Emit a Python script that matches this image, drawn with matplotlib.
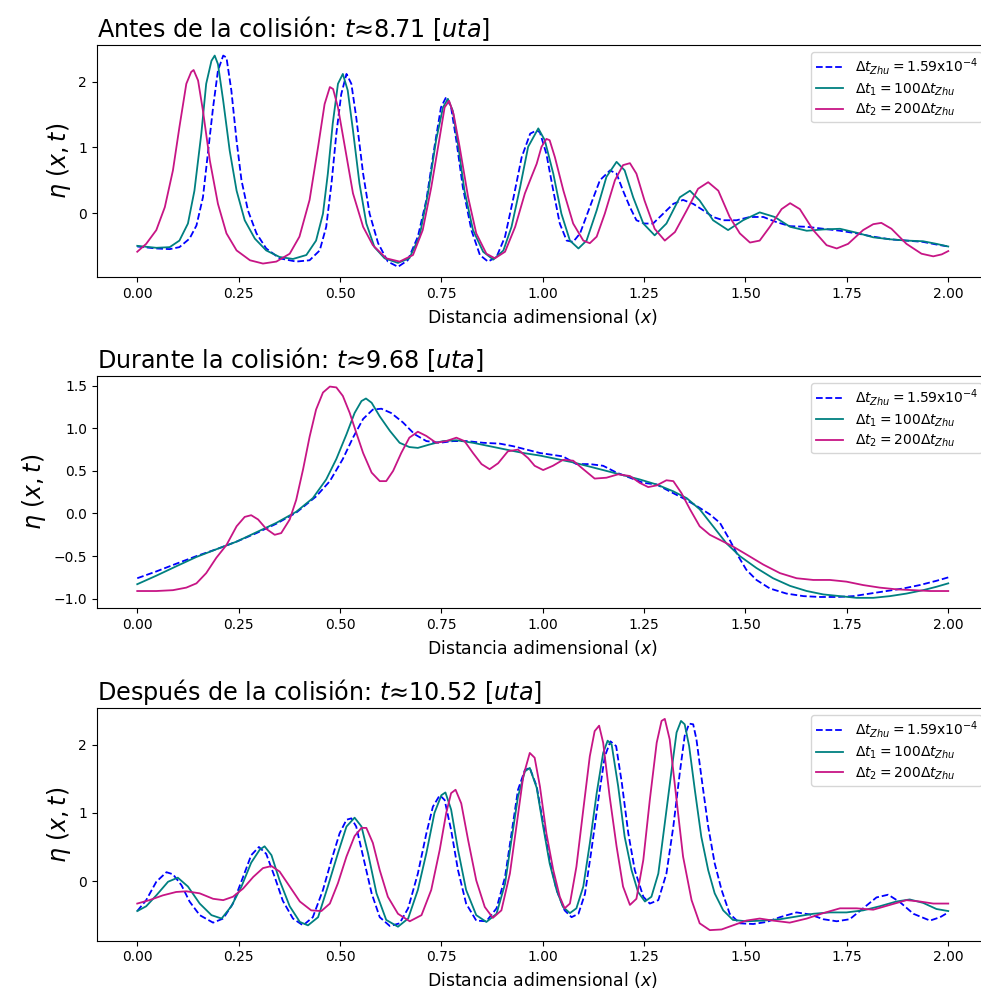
import matplotlib
matplotlib.use("Agg")
import matplotlib.pyplot as plt

# ---------------- Panel 1: antes de la colisión ----------------
p1_zhu_x = [0.000, 0.047, 0.080, 0.104, 0.129, 0.146, 0.162, 0.174, 0.187, 0.199, 0.212, 0.220, 0.232, 0.245,
            0.257, 0.273, 0.294, 0.318, 0.351, 0.392, 0.425, 0.450, 0.466, 0.479, 0.491, 0.503, 0.516, 0.528,
            0.540, 0.557, 0.573, 0.594, 0.618, 0.643, 0.667, 0.692, 0.713, 0.733, 0.749, 0.762, 0.774, 0.787,
            0.803, 0.824, 0.845, 0.865, 0.886, 0.907, 0.928, 0.948, 0.969, 0.985, 0.993, 1.009, 1.026, 1.042,
            1.059, 1.075, 1.092, 1.116, 1.141, 1.166, 1.182, 1.198, 1.215, 1.231, 1.251, 1.272, 1.297, 1.322,
            1.346, 1.371, 1.396, 1.420, 1.445, 1.478, 1.511, 1.544, 1.577, 1.610, 1.651, 1.692, 1.733, 1.774,
            1.815, 1.856, 1.897, 1.938, 1.971, 2.000]
p1_zhu_y = [-0.51, -0.54, -0.55, -0.52, -0.39, -0.19, 0.24, 0.90, 1.61, 2.17, 2.40, 2.37, 1.87, 1.10,
            0.50, 0.04, -0.31, -0.54, -0.69, -0.74, -0.72, -0.57, -0.21, 0.45, 1.21, 1.81, 2.12, 1.97,
            1.46, 0.60, -0.01, -0.46, -0.74, -0.82, -0.72, -0.36, 0.20, 1.01, 1.61, 1.77, 1.61, 1.10,
            0.39, -0.26, -0.64, -0.74, -0.67, -0.36, 0.24, 0.85, 1.21, 1.26, 1.23, 0.90, 0.34, -0.16,
            -0.42, -0.44, -0.31, 0.09, 0.50, 0.65, 0.60, 0.34, 0.09, -0.11, -0.16, -0.16, -0.01, 0.14,
            0.20, 0.14, 0.04, -0.06, -0.11, -0.11, -0.06, -0.06, -0.14, -0.20, -0.21, -0.24, -0.27, -0.31,
            -0.36, -0.40, -0.42, -0.44, -0.48, -0.51]

p1_dt1_x = [0.000, 0.047, 0.080, 0.104, 0.125, 0.141, 0.158, 0.170, 0.183, 0.191, 0.199, 0.212, 0.228, 0.245,
            0.265, 0.290, 0.318, 0.351, 0.384, 0.417, 0.441, 0.458, 0.470, 0.482, 0.495, 0.507, 0.519, 0.532,
            0.548, 0.565, 0.585, 0.610, 0.643, 0.671, 0.696, 0.717, 0.737, 0.754, 0.766, 0.778, 0.791, 0.807,
            0.828, 0.853, 0.878, 0.903, 0.923, 0.944, 0.964, 0.989, 1.005, 1.026, 1.046, 1.067, 1.088, 1.108,
            1.133, 1.157, 1.182, 1.202, 1.223, 1.248, 1.276, 1.305, 1.338, 1.363, 1.387, 1.420, 1.457, 1.494,
            1.535, 1.572, 1.610, 1.651, 1.692, 1.733, 1.774, 1.815, 1.856, 1.897, 1.938, 1.971, 2.000]
p1_dt1_y = [-0.50, -0.53, -0.52, -0.42, -0.16, 0.34, 1.21, 1.97, 2.32, 2.40, 2.27, 1.71, 0.95, 0.34,
            -0.11, -0.39, -0.57, -0.67, -0.70, -0.64, -0.42, -0.01, 0.60, 1.36, 1.97, 2.12, 1.87, 1.26,
            0.45, -0.16, -0.52, -0.69, -0.76, -0.69, -0.36, 0.30, 1.11, 1.61, 1.74, 1.56, 1.05, 0.34,
            -0.26, -0.59, -0.71, -0.57, -0.21, 0.39, 1.01, 1.29, 1.11, 0.60, -0.01, -0.42, -0.54, -0.42,
            0.04, 0.55, 0.78, 0.65, 0.24, -0.16, -0.34, -0.16, 0.24, 0.34, 0.19, -0.11, -0.26, -0.11,
            0.01, -0.06, -0.21, -0.27, -0.25, -0.24, -0.30, -0.37, -0.40, -0.42, -0.43, -0.47, -0.51]

p1_dt2_x = [0.000, 0.022, 0.047, 0.068, 0.088, 0.104, 0.121, 0.133, 0.139, 0.150, 0.162, 0.179, 0.199, 0.220,
            0.245, 0.278, 0.310, 0.343, 0.376, 0.400, 0.425, 0.446, 0.462, 0.475, 0.483, 0.495, 0.512, 0.532,
            0.557, 0.581, 0.614, 0.647, 0.680, 0.704, 0.725, 0.746, 0.758, 0.769, 0.780, 0.795, 0.816, 0.836,
            0.861, 0.882, 0.907, 0.932, 0.956, 0.972, 0.985, 0.997, 1.009, 1.017, 1.030, 1.051, 1.075, 1.100,
            1.116, 1.133, 1.153, 1.178, 1.198, 1.215, 1.231, 1.251, 1.276, 1.301, 1.326, 1.355, 1.383, 1.408,
            1.433, 1.461, 1.486, 1.511, 1.535, 1.560, 1.589, 1.610, 1.634, 1.667, 1.700, 1.725, 1.753, 1.790,
            1.815, 1.835, 1.860, 1.897, 1.934, 1.963, 1.984, 2.000]
p1_dt2_y = [-0.59, -0.47, -0.26, 0.09, 0.65, 1.31, 1.97, 2.15, 2.18, 2.02, 1.56, 0.80, 0.14, -0.31,
            -0.57, -0.72, -0.77, -0.74, -0.62, -0.36, 0.20, 1.01, 1.66, 1.92, 1.89, 1.61, 1.01, 0.30,
            -0.21, -0.49, -0.69, -0.74, -0.64, -0.26, 0.39, 1.16, 1.61, 1.71, 1.51, 1.01, 0.24, -0.31,
            -0.62, -0.69, -0.59, -0.21, 0.30, 0.55, 0.75, 1.01, 1.13, 1.11, 0.85, 0.34, -0.16, -0.42,
            -0.46, -0.36, -0.01, 0.50, 0.73, 0.76, 0.60, 0.19, -0.24, -0.42, -0.29, 0.04, 0.37, 0.47,
            0.34, -0.06, -0.31, -0.45, -0.42, -0.21, 0.06, 0.15, 0.06, -0.26, -0.49, -0.54, -0.47, -0.26,
            -0.17, -0.15, -0.24, -0.47, -0.62, -0.66, -0.63, -0.58]

# ---------------- Panel 2: durante la colisión ----------------
p2_zhu_x = [0.000, 0.047, 0.096, 0.146, 0.195, 0.245, 0.294, 0.343, 0.392, 0.441, 0.475, 0.507, 0.532, 0.557,
            0.581, 0.602, 0.626, 0.655, 0.684, 0.713, 0.746, 0.779, 0.812, 0.853, 0.894, 0.927, 0.960, 0.993,
            1.050, 1.083, 1.116, 1.149, 1.182, 1.215, 1.248, 1.281, 1.313, 1.346, 1.379, 1.412, 1.437, 1.461,
            1.482, 1.502, 1.527, 1.560, 1.601, 1.643, 1.684, 1.725, 1.766, 1.807, 1.848, 1.889, 1.930, 1.971,
            2.000]
p2_zhu_y = [-0.76, -0.68, -0.59, -0.50, -0.42, -0.33, -0.23, -0.12, 0.01, 0.20, 0.38, 0.64, 0.89, 1.11,
            1.22, 1.23, 1.18, 1.07, 0.93, 0.85, 0.83, 0.85, 0.85, 0.83, 0.82, 0.79, 0.75, 0.71,
            0.67, 0.58, 0.58, 0.56, 0.48, 0.42, 0.36, 0.34, 0.26, 0.18, 0.09, -0.01, -0.11, -0.31,
            -0.50, -0.66, -0.78, -0.88, -0.94, -0.97, -0.98, -0.98, -0.97, -0.94, -0.91, -0.88, -0.84, -0.79,
            -0.75]

p2_dt1_x = [0.000, 0.047, 0.096, 0.146, 0.195, 0.245, 0.294, 0.343, 0.392, 0.433, 0.466, 0.491, 0.516, 0.536,
            0.553, 0.564, 0.578, 0.598, 0.623, 0.647, 0.671, 0.692, 0.721, 0.754, 0.787, 0.828, 0.869, 0.910,
            0.952, 0.993, 1.034, 1.075, 1.116, 1.157, 1.198, 1.239, 1.281, 1.322, 1.355, 1.387, 1.420, 1.453,
            1.486, 1.527, 1.568, 1.610, 1.651, 1.692, 1.733, 1.774, 1.815, 1.856, 1.897, 1.938, 1.971, 2.000]
p2_dt1_y = [-0.83, -0.73, -0.62, -0.51, -0.42, -0.33, -0.22, -0.11, 0.02, 0.18, 0.40, 0.64, 0.93, 1.18,
            1.32, 1.35, 1.30, 1.14, 0.97, 0.83, 0.78, 0.77, 0.81, 0.85, 0.86, 0.83, 0.79, 0.75,
            0.71, 0.68, 0.64, 0.60, 0.55, 0.50, 0.45, 0.40, 0.34, 0.26, 0.18, 0.05, -0.15, -0.35,
            -0.50, -0.64, -0.76, -0.85, -0.91, -0.95, -0.97, -0.99, -0.99, -0.97, -0.94, -0.90, -0.86, -0.82]

p2_dt2_x = [0.000, 0.047, 0.088, 0.121, 0.146, 0.170, 0.195, 0.220, 0.245, 0.265, 0.281, 0.298, 0.318, 0.339,
            0.355, 0.376, 0.392, 0.409, 0.425, 0.441, 0.458, 0.475, 0.491, 0.507, 0.524, 0.540, 0.557, 0.578,
            0.598, 0.614, 0.631, 0.651, 0.671, 0.692, 0.713, 0.737, 0.762, 0.787, 0.807, 0.828, 0.849, 0.869,
            0.890, 0.914, 0.939, 0.964, 0.980, 1.001, 1.025, 1.050, 1.075, 1.100, 1.128, 1.157, 1.186, 1.215,
            1.239, 1.260, 1.281, 1.305, 1.322, 1.342, 1.363, 1.387, 1.412, 1.437, 1.470, 1.502, 1.544, 1.585,
            1.626, 1.667, 1.708, 1.749, 1.790, 1.831, 1.872, 1.914, 1.955, 2.000]
p2_dt2_y = [-0.91, -0.91, -0.90, -0.87, -0.82, -0.70, -0.52, -0.37, -0.15, -0.04, -0.02, -0.07, -0.18, -0.25,
            -0.23, -0.07, 0.16, 0.52, 0.90, 1.22, 1.42, 1.49, 1.48, 1.38, 1.18, 0.95, 0.71, 0.48,
            0.38, 0.38, 0.50, 0.71, 0.89, 0.96, 0.91, 0.83, 0.85, 0.89, 0.85, 0.71, 0.58, 0.52,
            0.59, 0.73, 0.75, 0.65, 0.56, 0.51, 0.56, 0.63, 0.62, 0.52, 0.41, 0.42, 0.46, 0.44,
            0.36, 0.31, 0.33, 0.39, 0.38, 0.24, 0.05, -0.15, -0.25, -0.31, -0.39, -0.48, -0.60, -0.70,
            -0.76, -0.78, -0.78, -0.80, -0.84, -0.87, -0.89, -0.90, -0.91, -0.91]

# ---------------- Panel 3: después de la colisión ----------------
p3_zhu_x = [0.000, 0.022, 0.047, 0.072, 0.088, 0.109, 0.129, 0.154, 0.187, 0.212, 0.236, 0.261, 0.281, 0.300,
            0.318, 0.339, 0.359, 0.384, 0.409, 0.433, 0.458, 0.479, 0.499, 0.516, 0.528, 0.540, 0.557, 0.578,
            0.598, 0.623, 0.647, 0.668, 0.692, 0.713, 0.729, 0.746, 0.758, 0.774, 0.791, 0.811, 0.836, 0.861,
            0.886, 0.907, 0.923, 0.939, 0.956, 0.968, 0.985, 1.001, 1.017, 1.034, 1.054, 1.071, 1.088, 1.104,
            1.120, 1.137, 1.153, 1.167, 1.181, 1.195, 1.211, 1.227, 1.248, 1.264, 1.285, 1.305, 1.322, 1.338,
            1.350, 1.361, 1.371, 1.379, 1.391, 1.408, 1.424, 1.441, 1.461, 1.486, 1.519, 1.552, 1.585, 1.626,
            1.659, 1.692, 1.725, 1.757, 1.790, 1.823, 1.852, 1.881, 1.914, 1.955, 1.980, 2.000]
p3_zhu_y = [-0.44, -0.28, -0.01, 0.13, 0.10, -0.06, -0.30, -0.50, -0.61, -0.55, -0.33, 0.06, 0.38, 0.50,
            0.40, 0.06, -0.29, -0.55, -0.65, -0.53, -0.13, 0.31, 0.70, 0.90, 0.92, 0.80, 0.36, -0.18,
            -0.53, -0.66, -0.62, -0.40, 0.11, 0.70, 1.09, 1.26, 1.19, 0.75, 0.16, -0.33, -0.58, -0.59,
            -0.40, 0.06, 0.70, 1.34, 1.63, 1.66, 1.39, 0.85, 0.31, -0.13, -0.43, -0.53, -0.48, -0.19,
            0.45, 1.19, 1.83, 2.05, 1.98, 1.44, 0.70, 0.16, -0.23, -0.33, -0.28, 0.11, 0.80, 1.59,
            2.13, 2.31, 2.30, 2.08, 1.54, 0.80, 0.26, -0.13, -0.48, -0.62, -0.63, -0.60, -0.53, -0.46,
            -0.49, -0.56, -0.59, -0.56, -0.40, -0.24, -0.20, -0.31, -0.48, -0.58, -0.53, -0.46]

p3_dt1_x = [0.000, 0.022, 0.047, 0.076, 0.100, 0.125, 0.154, 0.183, 0.208, 0.232, 0.257, 0.281, 0.302, 0.314,
            0.331, 0.351, 0.376, 0.401, 0.421, 0.446, 0.470, 0.495, 0.516, 0.536, 0.553, 0.569, 0.590, 0.614,
            0.643, 0.668, 0.692, 0.713, 0.733, 0.750, 0.760, 0.774, 0.791, 0.811, 0.836, 0.861, 0.886, 0.907,
            0.923, 0.939, 0.956, 0.968, 0.985, 1.001, 1.017, 1.034, 1.050, 1.067, 1.083, 1.100, 1.116, 1.133,
            1.149, 1.160, 1.170, 1.186, 1.202, 1.219, 1.235, 1.252, 1.268, 1.285, 1.301, 1.318, 1.330, 1.341,
            1.350, 1.361, 1.375, 1.391, 1.408, 1.424, 1.445, 1.469, 1.502, 1.544, 1.585, 1.626, 1.667, 1.708,
            1.749, 1.790, 1.831, 1.872, 1.905, 1.938, 1.971, 2.000]
p3_dt1_y = [-0.44, -0.37, -0.21, -0.01, 0.05, -0.08, -0.33, -0.50, -0.55, -0.37, -0.08, 0.27, 0.46, 0.51,
            0.38, 0.01, -0.37, -0.60, -0.65, -0.53, -0.08, 0.41, 0.80, 0.93, 0.80, 0.41, -0.18, -0.57,
            -0.67, -0.55, -0.13, 0.41, 1.00, 1.26, 1.30, 1.05, 0.46, -0.13, -0.50, -0.60, -0.48, -0.04,
            0.61, 1.24, 1.61, 1.66, 1.37, 0.80, 0.26, -0.13, -0.38, -0.47, -0.40, -0.08, 0.55, 1.29,
            1.88, 2.06, 2.00, 1.39, 0.65, 0.16, -0.16, -0.30, -0.23, 0.11, 0.85, 1.64, 2.18, 2.35,
            2.30, 1.98, 1.34, 0.65, 0.16, -0.18, -0.43, -0.57, -0.59, -0.58, -0.56, -0.52, -0.48, -0.46,
            -0.46, -0.43, -0.37, -0.30, -0.27, -0.32, -0.41, -0.44]

p3_dt2_x = [0.000, 0.030, 0.063, 0.096, 0.121, 0.154, 0.187, 0.212, 0.236, 0.261, 0.286, 0.310, 0.331, 0.351,
            0.376, 0.401, 0.429, 0.454, 0.475, 0.495, 0.516, 0.536, 0.553, 0.565, 0.581, 0.598, 0.618, 0.643,
            0.672, 0.701, 0.725, 0.746, 0.762, 0.774, 0.785, 0.799, 0.816, 0.836, 0.857, 0.877, 0.898, 0.919,
            0.935, 0.952, 0.968, 0.980, 0.993, 1.009, 1.026, 1.042, 1.054, 1.067, 1.083, 1.100, 1.116, 1.128,
            1.139, 1.149, 1.165, 1.182, 1.198, 1.215, 1.231, 1.248, 1.264, 1.281, 1.293, 1.301, 1.313, 1.330,
            1.346, 1.367, 1.387, 1.412, 1.441, 1.469, 1.502, 1.535, 1.568, 1.609, 1.651, 1.692, 1.733, 1.774,
            1.815, 1.856, 1.897, 1.930, 1.963, 2.000]
p3_dt2_y = [-0.33, -0.28, -0.21, -0.16, -0.15, -0.18, -0.26, -0.28, -0.23, -0.11, 0.06, 0.19, 0.22, 0.14,
            -0.08, -0.30, -0.43, -0.44, -0.33, -0.03, 0.36, 0.66, 0.78, 0.78, 0.56, 0.16, -0.23, -0.48,
            -0.59, -0.50, -0.13, 0.46, 1.00, 1.29, 1.34, 1.14, 0.60, 0.01, -0.38, -0.54, -0.43, 0.11,
            0.80, 1.54, 1.88, 1.81, 1.39, 0.70, 0.16, -0.23, -0.40, -0.33, 0.21, 1.05, 1.83, 2.20,
            2.28, 2.03, 1.24, 0.51, -0.08, -0.35, -0.26, 0.31, 1.19, 2.03, 2.35, 2.38, 2.08, 1.19,
            0.36, -0.28, -0.62, -0.72, -0.71, -0.65, -0.58, -0.55, -0.58, -0.61, -0.55, -0.47, -0.40, -0.40,
            -0.42, -0.35, -0.28, -0.30, -0.33, -0.33]

titles = ["Antes de la colisión: $t$≈8.71 [$uta$]",
          "Durante la colisión: $t$≈9.68 [$uta$]",
          "Después de la colisión: $t$≈10.52 [$uta$]"]
legend_labels = [r"$\Delta t_{Zhu} = 1.59\mathrm{x}10^{-4}$",
                 r"$\Delta t_1 = 100\Delta t_{Zhu}$",
                 r"$\Delta t_2 = 200\Delta t_{Zhu}$"]
xticks = [0.00, 0.25, 0.50, 0.75, 1.00, 1.25, 1.50, 1.75, 2.00]

panels = [
    (p1_zhu_x, p1_zhu_y, p1_dt1_x, p1_dt1_y, p1_dt2_x, p1_dt2_y, [0, 1, 2]),
    (p2_zhu_x, p2_zhu_y, p2_dt1_x, p2_dt1_y, p2_dt2_x, p2_dt2_y, [-1.0, -0.5, 0.0, 0.5, 1.0, 1.5]),
    (p3_zhu_x, p3_zhu_y, p3_dt1_x, p3_dt1_y, p3_dt2_x, p3_dt2_y, [0, 1, 2]),
]

fig = plt.figure(figsize=(9.81, 9.92), dpi=100)
W, H = 981.0, 992.0
left_px, right_px = 96.7, 988.8
tops = [45.0, 376.0, 708.3]
ax_h = 232.4

for i, (zx, zy, ax1, ay1, ax2, ay2, yt) in enumerate(panels):
    top = tops[i]
    ax = fig.add_axes([left_px / W, 1 - (top + ax_h) / H, (right_px - left_px) / W, ax_h / H])
    ax.plot(zx, zy, color="blue", linestyle="--", linewidth=1.3, label=legend_labels[0])
    ax.plot(ax1, ay1, color="teal", linewidth=1.3, label=legend_labels[1])
    ax.plot(ax2, ay2, color="mediumvioletred", linewidth=1.3, label=legend_labels[2])
    ax.set_xlim(-0.1, 2.1)
    ax.set_xticks(xticks)
    ax.set_xticklabels([f"{v:.2f}" for v in xticks])
    ax.set_yticks(yt)
    ax.tick_params(labelsize=10)
    ax.set_title(titles[i], loc="left", fontsize=17.2)
    ax.set_xlabel("Distancia adimensional ($x$)", fontsize=12.4)
    ax.set_ylabel(r"$\eta\ (x,t)$", fontsize=17)
    ax.legend(loc="upper right", fontsize=10, labelspacing=0.3, borderpad=0.3)

fig.savefig("out.png", dpi=100)
